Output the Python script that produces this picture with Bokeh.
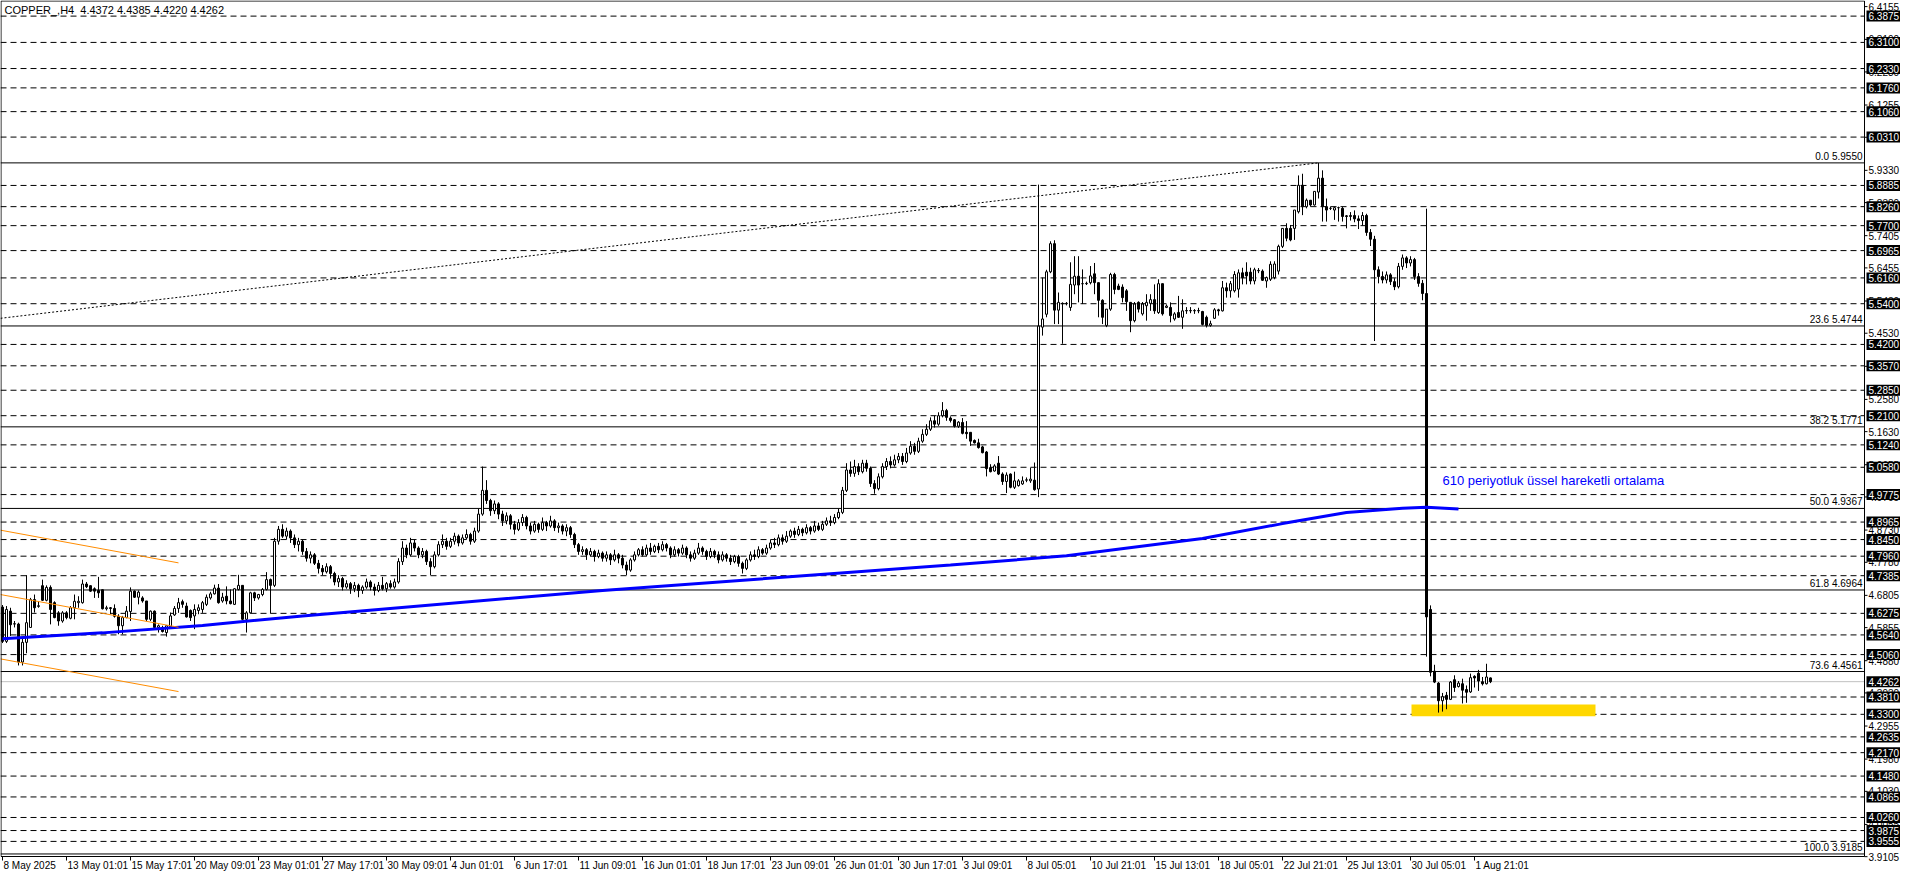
from bokeh.plotting import figure
from bokeh.models import ColumnDataSource, Label, Range1d
from bokeh.embed import file_html
from bokeh.resources import INLINE
from bokeh.core.properties import value

title_text = "COPPER_,H4\u00a0 4.4372 4.4385 4.4220 4.4262"

x_tick_labels = ["8 May 2025", "13 May 01:01", "15 May 17:01", "20 May 09:01", "23 May 01:01",
                 "27 May 17:01", "30 May 09:01", "4 Jun 01:01", "6 Jun 17:01", "11 Jun 09:01",
                 "16 Jun 01:01", "18 Jun 17:01", "23 Jun 09:01", "26 Jun 01:01", "30 Jun 17:01",
                 "3 Jul 09:01", "8 Jul 05:01", "10 Jul 21:01", "15 Jul 13:01", "18 Jul 05:01",
                 "22 Jul 21:01", "25 Jul 13:01", "30 Jul 05:01", "1 Aug 21:01"]
x_tick_bars = [0, 16, 32, 48, 64, 80, 96, 112, 128, 144, 160, 176, 192, 208, 224, 240,
               256, 272, 288, 304, 320, 336, 352, 368]

y_tick_values = [6.4155, 6.3190, 6.2230, 6.1255, 6.0305, 5.9330, 5.8380, 5.7405, 5.6455,
                 5.5480, 5.4530, 5.3555, 5.2580, 5.1630, 5.0655, 4.9705, 4.8730, 4.7780,
                 4.6805, 4.5855, 4.4880, 4.3930, 4.2955, 4.1980, 4.1030, 4.0055, 3.9105]

opens = [
    4.646, 4.545, 4.634, 4.596, 4.596, 4.484, 4.542, 4.586, 4.668, 4.648,
    4.709, 4.666, 4.704, 4.659, 4.629, 4.605, 4.629, 4.613, 4.644, 4.659,
    4.659, 4.714, 4.709, 4.700, 4.695, 4.697, 4.641, 4.644, 4.642, 4.619,
    4.591, 4.615, 4.633, 4.693, 4.675, 4.673, 4.664, 4.610, 4.634, 4.586,
    4.586, 4.571, 4.588, 4.623, 4.642, 4.662, 4.649, 4.636, 4.620, 4.636,
    4.639, 4.654, 4.673, 4.685, 4.702, 4.664, 4.678, 4.664, 4.654, 4.698,
    4.710, 4.610, 4.629, 4.688, 4.673, 4.683, 4.698, 4.727, 4.710, 4.840,
    4.875, 4.855, 4.870, 4.850, 4.830, 4.840, 4.810, 4.790, 4.800, 4.775,
    4.760, 4.750, 4.765, 4.745, 4.720, 4.730, 4.705, 4.715, 4.700, 4.710,
    4.695, 4.705, 4.720, 4.705, 4.695, 4.710, 4.700, 4.715, 4.705, 4.720,
    4.780, 4.820, 4.800, 4.835, 4.820, 4.800, 4.810, 4.780, 4.765, 4.800,
    4.830, 4.840, 4.825, 4.840, 4.855, 4.835, 4.850, 4.860, 4.840, 4.870,
    4.920, 4.990, 4.960, 4.930, 4.950, 4.920, 4.900, 4.915, 4.890, 4.875,
    4.895, 4.910, 4.885, 4.870, 4.890, 4.875, 4.895, 4.885, 4.900, 4.880,
    4.885, 4.870, 4.880, 4.860, 4.830, 4.810, 4.815, 4.800, 4.810, 4.795,
    4.805, 4.790, 4.800, 4.785, 4.800, 4.790, 4.770, 4.755, 4.785, 4.800,
    4.815, 4.800, 4.820, 4.810, 4.825, 4.815, 4.830, 4.820, 4.800, 4.815,
    4.805, 4.820, 4.800, 4.790, 4.805, 4.820, 4.810, 4.795, 4.810, 4.800,
    4.785, 4.800, 4.790, 4.780, 4.795, 4.775, 4.760, 4.785, 4.800, 4.795,
    4.815, 4.805, 4.820, 4.835, 4.830, 4.850, 4.840, 4.855, 4.870, 4.860,
    4.875, 4.865, 4.880, 4.870, 4.885, 4.875, 4.890, 4.900, 4.895, 4.910,
    4.925, 4.990, 5.050, 5.040, 5.060, 5.045, 5.070, 5.055, 5.010, 4.995,
    5.030, 5.060, 5.075, 5.065, 5.080, 5.090, 5.075, 5.100, 5.120, 5.105,
    5.135, 5.155, 5.170, 5.195, 5.185, 5.210, 5.225, 5.203, 5.198, 5.179,
    5.190, 5.161, 5.161, 5.137, 5.130, 5.118, 5.103, 5.057, 5.047, 5.070,
    5.038, 5.016, 5.038, 4.999, 5.004, 5.009, 5.020, 5.018, 5.020, 4.994,
    5.471, 5.509, 5.634, 5.717, 5.521, 5.541, 5.540, 5.529, 5.595, 5.621,
    5.599, 5.599, 5.602, 5.628, 5.602, 5.550, 5.476, 5.524, 5.626, 5.592,
    5.589, 5.578, 5.544, 5.490, 5.544, 5.510, 5.534, 5.541, 5.552, 5.514,
    5.599, 5.529, 5.529, 5.495, 5.514, 5.500, 5.519, 5.519, 5.519, 5.519,
    5.517, 5.500, 5.476, 5.497, 5.522, 5.519, 5.587, 5.578, 5.578, 5.583,
    5.631, 5.633, 5.633, 5.607, 5.638, 5.636, 5.607, 5.612, 5.617, 5.636,
    5.709, 5.762, 5.762, 5.762, 5.811, 5.889, 5.826, 5.845, 5.831, 5.869,
    5.910, 5.826, 5.821, 5.816, 5.823, 5.821, 5.799, 5.797, 5.800, 5.790,
    5.785, 5.800, 5.750, 5.730, 5.640, 5.620, 5.610, 5.625, 5.605, 5.590,
    5.650, 5.675, 5.660, 5.670, 5.620, 5.600, 5.570, 4.639, 4.457, 4.422,
    4.370, 4.386, 4.374, 4.432, 4.412, 4.420, 4.403, 4.396, 4.442, 4.451,
    4.426, 4.420, 4.4372]

highs = [
    4.652, 4.649, 4.644, 4.605, 4.600, 4.557, 4.740, 4.673, 4.683, 4.664,
    4.727, 4.710, 4.710, 4.663, 4.634, 4.634, 4.634, 4.649, 4.683, 4.678,
    4.727, 4.720, 4.710, 4.704, 4.735, 4.698, 4.650, 4.646, 4.654, 4.625,
    4.620, 4.649, 4.704, 4.695, 4.695, 4.678, 4.664, 4.636, 4.636, 4.595,
    4.591, 4.591, 4.630, 4.649, 4.673, 4.668, 4.659, 4.639, 4.654, 4.654,
    4.664, 4.683, 4.691, 4.712, 4.714, 4.688, 4.707, 4.698, 4.702, 4.741,
    4.710, 4.634, 4.691, 4.691, 4.685, 4.702, 4.749, 4.730, 4.850, 4.885,
    4.890, 4.880, 4.875, 4.860, 4.850, 4.845, 4.820, 4.810, 4.805, 4.785,
    4.770, 4.775, 4.770, 4.750, 4.740, 4.735, 4.725, 4.720, 4.720, 4.715,
    4.710, 4.730, 4.725, 4.715, 4.720, 4.735, 4.720, 4.725, 4.730, 4.790,
    4.840, 4.830, 4.850, 4.845, 4.825, 4.820, 4.815, 4.790, 4.810, 4.840,
    4.860, 4.850, 4.850, 4.865, 4.860, 4.860, 4.875, 4.865, 4.880, 4.935,
    5.060, 5.020, 4.965, 4.960, 4.955, 4.930, 4.925, 4.920, 4.900, 4.905,
    4.920, 4.915, 4.895, 4.900, 4.895, 4.910, 4.900, 4.915, 4.905, 4.895,
    4.890, 4.890, 4.885, 4.865, 4.835, 4.825, 4.820, 4.820, 4.815, 4.815,
    4.810, 4.810, 4.805, 4.815, 4.805, 4.800, 4.780, 4.790, 4.810, 4.820,
    4.825, 4.830, 4.835, 4.830, 4.835, 4.840, 4.835, 4.825, 4.825, 4.820,
    4.830, 4.825, 4.810, 4.815, 4.835, 4.825, 4.815, 4.820, 4.815, 4.810,
    4.810, 4.805, 4.800, 4.800, 4.800, 4.780, 4.790, 4.810, 4.815, 4.825,
    4.820, 4.830, 4.845, 4.850, 4.860, 4.860, 4.870, 4.875, 4.880, 4.885,
    4.880, 4.890, 4.885, 4.900, 4.895, 4.900, 4.910, 4.915, 4.920, 4.935,
    5.000, 5.070, 5.075, 5.080, 5.070, 5.080, 5.080, 5.060, 5.020, 5.040,
    5.070, 5.085, 5.090, 5.095, 5.100, 5.100, 5.115, 5.135, 5.130, 5.145,
    5.170, 5.185, 5.205, 5.210, 5.220, 5.250, 5.230, 5.208, 5.200, 5.194,
    5.203, 5.194, 5.161, 5.140, 5.142, 5.121, 5.106, 5.067, 5.067, 5.091,
    5.043, 5.043, 5.040, 5.045, 5.023, 5.031, 5.028, 5.057, 5.072, 5.891,
    5.617, 5.640, 5.724, 5.727, 5.573, 5.544, 5.545, 5.662, 5.680, 5.680,
    5.641, 5.605, 5.651, 5.660, 5.602, 5.553, 5.524, 5.631, 5.631, 5.599,
    5.597, 5.583, 5.544, 5.545, 5.547, 5.545, 5.568, 5.568, 5.597, 5.612,
    5.599, 5.538, 5.544, 5.515, 5.563, 5.553, 5.530, 5.530, 5.524, 5.528,
    5.519, 5.505, 5.490, 5.527, 5.525, 5.607, 5.602, 5.607, 5.636, 5.641,
    5.646, 5.662, 5.646, 5.646, 5.645, 5.641, 5.620, 5.665, 5.665, 5.714,
    5.762, 5.777, 5.772, 5.816, 5.918, 5.923, 5.850, 5.845, 5.871, 5.955,
    5.933, 5.850, 5.826, 5.826, 5.826, 5.826, 5.801, 5.810, 5.815, 5.800,
    5.810, 5.805, 5.760, 5.740, 5.650, 5.635, 5.635, 5.630, 5.615, 5.660,
    5.685, 5.680, 5.680, 5.675, 5.630, 5.610, 5.820, 4.651, 4.476, 4.425,
    4.393, 4.396, 4.428, 4.445, 4.428, 4.435, 4.415, 4.450, 4.445, 4.461,
    4.440, 4.479, 4.4385]

lows = [
    4.540, 4.540, 4.561, 4.586, 4.474, 4.474, 4.510, 4.586, 4.630, 4.644,
    4.664, 4.663, 4.595, 4.613, 4.591, 4.600, 4.610, 4.610, 4.610, 4.644,
    4.656, 4.702, 4.691, 4.673, 4.673, 4.639, 4.636, 4.625, 4.615, 4.566,
    4.566, 4.613, 4.605, 4.673, 4.654, 4.659, 4.605, 4.605, 4.584, 4.571,
    4.571, 4.559, 4.586, 4.620, 4.629, 4.644, 4.615, 4.605, 4.581, 4.625,
    4.629, 4.649, 4.668, 4.683, 4.656, 4.659, 4.654, 4.654, 4.652, 4.695,
    4.607, 4.571, 4.627, 4.664, 4.668, 4.678, 4.695, 4.627, 4.705, 4.830,
    4.850, 4.845, 4.835, 4.820, 4.810, 4.800, 4.780, 4.775, 4.770, 4.745,
    4.740, 4.745, 4.730, 4.710, 4.705, 4.695, 4.700, 4.685, 4.690, 4.675,
    4.685, 4.700, 4.695, 4.680, 4.690, 4.695, 4.690, 4.700, 4.700, 4.715,
    4.770, 4.790, 4.795, 4.810, 4.790, 4.790, 4.770, 4.740, 4.760, 4.795,
    4.820, 4.815, 4.820, 4.830, 4.825, 4.830, 4.845, 4.830, 4.835, 4.865,
    4.915, 4.950, 4.915, 4.920, 4.905, 4.885, 4.890, 4.875, 4.860, 4.870,
    4.885, 4.875, 4.860, 4.865, 4.865, 4.870, 4.870, 4.880, 4.870, 4.865,
    4.860, 4.855, 4.850, 4.820, 4.800, 4.800, 4.785, 4.795, 4.780, 4.790,
    4.780, 4.780, 4.770, 4.780, 4.775, 4.760, 4.740, 4.750, 4.780, 4.795,
    4.795, 4.795, 4.800, 4.805, 4.805, 4.810, 4.810, 4.790, 4.795, 4.795,
    4.800, 4.790, 4.780, 4.785, 4.800, 4.800, 4.785, 4.790, 4.790, 4.775,
    4.780, 4.780, 4.770, 4.775, 4.765, 4.745, 4.755, 4.780, 4.785, 4.790,
    4.800, 4.800, 4.815, 4.820, 4.825, 4.830, 4.835, 4.850, 4.850, 4.855,
    4.855, 4.860, 4.860, 4.865, 4.870, 4.870, 4.885, 4.885, 4.890, 4.905,
    4.920, 4.985, 5.030, 5.030, 5.035, 5.040, 5.045, 5.000, 4.980, 4.990,
    5.025, 5.050, 5.055, 5.060, 5.070, 5.065, 5.070, 5.095, 5.095, 5.100,
    5.130, 5.150, 5.165, 5.175, 5.180, 5.205, 5.195, 5.190, 5.175, 5.174,
    5.155, 5.142, 5.121, 5.128, 5.113, 5.099, 5.031, 5.043, 5.045, 5.035,
    5.006, 4.982, 4.996, 4.994, 5.001, 5.006, 5.014, 5.012, 4.989, 4.970,
    5.446, 5.500, 5.630, 5.480, 5.480, 5.422, 5.535, 5.519, 5.568, 5.544,
    5.539, 5.595, 5.597, 5.568, 5.500, 5.480, 5.471, 5.519, 5.568, 5.580,
    5.544, 5.519, 5.456, 5.485, 5.514, 5.505, 5.490, 5.519, 5.510, 5.510,
    5.505, 5.527, 5.485, 5.490, 5.498, 5.466, 5.510, 5.512, 5.510, 5.512,
    5.476, 5.470, 5.472, 5.495, 5.505, 5.517, 5.558, 5.558, 5.573, 5.558,
    5.597, 5.597, 5.597, 5.597, 5.630, 5.607, 5.587, 5.607, 5.612, 5.626,
    5.704, 5.724, 5.724, 5.728, 5.806, 5.801, 5.821, 5.826, 5.829, 5.850,
    5.782, 5.782, 5.816, 5.787, 5.782, 5.782, 5.762, 5.785, 5.780, 5.760,
    5.770, 5.740, 5.710, 5.430, 5.600, 5.600, 5.600, 5.595, 5.580, 5.585,
    5.640, 5.645, 5.650, 5.610, 5.590, 5.550, 4.500, 4.442, 4.422, 4.335,
    4.338, 4.345, 4.372, 4.396, 4.409, 4.362, 4.364, 4.393, 4.409, 4.399,
    4.415, 4.418, 4.4220]

closes = [
    4.545, 4.639, 4.594, 4.597, 4.484, 4.542, 4.600, 4.668, 4.644, 4.650,
    4.666, 4.704, 4.639, 4.615, 4.605, 4.629, 4.615, 4.644, 4.663, 4.663,
    4.714, 4.706, 4.693, 4.693, 4.688, 4.641, 4.644, 4.642, 4.619, 4.591,
    4.615, 4.634, 4.693, 4.675, 4.690, 4.664, 4.610, 4.634, 4.586, 4.591,
    4.574, 4.591, 4.620, 4.642, 4.659, 4.654, 4.617, 4.615, 4.639, 4.644,
    4.659, 4.675, 4.685, 4.702, 4.659, 4.675, 4.664, 4.656, 4.700, 4.710,
    4.610, 4.629, 4.688, 4.673, 4.683, 4.698, 4.727, 4.710, 4.840, 4.875,
    4.855, 4.870, 4.850, 4.830, 4.840, 4.810, 4.790, 4.800, 4.775, 4.760,
    4.750, 4.765, 4.745, 4.720, 4.730, 4.705, 4.715, 4.700, 4.710, 4.695,
    4.705, 4.720, 4.705, 4.695, 4.710, 4.700, 4.715, 4.705, 4.720, 4.780,
    4.820, 4.800, 4.835, 4.820, 4.800, 4.810, 4.780, 4.765, 4.800, 4.830,
    4.840, 4.825, 4.840, 4.855, 4.835, 4.850, 4.860, 4.840, 4.870, 4.920,
    4.990, 4.960, 4.930, 4.950, 4.920, 4.900, 4.915, 4.890, 4.875, 4.895,
    4.910, 4.885, 4.870, 4.890, 4.875, 4.895, 4.885, 4.900, 4.880, 4.885,
    4.870, 4.880, 4.860, 4.830, 4.810, 4.815, 4.800, 4.810, 4.795, 4.805,
    4.790, 4.800, 4.785, 4.800, 4.790, 4.770, 4.755, 4.785, 4.800, 4.815,
    4.800, 4.820, 4.810, 4.825, 4.815, 4.830, 4.820, 4.800, 4.815, 4.805,
    4.820, 4.800, 4.790, 4.805, 4.820, 4.810, 4.795, 4.810, 4.800, 4.785,
    4.800, 4.790, 4.780, 4.795, 4.775, 4.760, 4.785, 4.800, 4.795, 4.815,
    4.805, 4.820, 4.835, 4.830, 4.850, 4.840, 4.855, 4.870, 4.860, 4.875,
    4.865, 4.880, 4.870, 4.885, 4.875, 4.890, 4.900, 4.895, 4.910, 4.925,
    4.990, 5.050, 5.040, 5.060, 5.045, 5.070, 5.055, 5.010, 4.995, 5.030,
    5.060, 5.075, 5.065, 5.080, 5.090, 5.075, 5.100, 5.120, 5.105, 5.135,
    5.155, 5.170, 5.195, 5.185, 5.210, 5.225, 5.205, 5.196, 5.179, 5.191,
    5.158, 5.157, 5.135, 5.130, 5.116, 5.101, 5.054, 5.045, 5.062, 5.038,
    5.016, 5.035, 4.999, 5.018, 5.018, 5.018, 5.021, 5.023, 4.992, 5.474,
    5.495, 5.634, 5.717, 5.521, 5.544, 5.540, 5.541, 5.597, 5.621, 5.595,
    5.599, 5.600, 5.622, 5.602, 5.550, 5.500, 5.524, 5.626, 5.582, 5.582,
    5.558, 5.546, 5.490, 5.539, 5.524, 5.539, 5.544, 5.552, 5.519, 5.599,
    5.510, 5.533, 5.505, 5.510, 5.500, 5.519, 5.520, 5.520, 5.520, 5.520,
    5.479, 5.476, 5.481, 5.522, 5.519, 5.587, 5.578, 5.599, 5.626, 5.631,
    5.617, 5.622, 5.607, 5.640, 5.637, 5.609, 5.617, 5.656, 5.657, 5.709,
    5.762, 5.733, 5.728, 5.816, 5.889, 5.826, 5.845, 5.831, 5.871, 5.910,
    5.826, 5.816, 5.821, 5.823, 5.823, 5.797, 5.797, 5.800, 5.790, 5.785,
    5.800, 5.750, 5.730, 5.640, 5.620, 5.610, 5.625, 5.605, 5.590, 5.650,
    5.675, 5.660, 5.670, 5.620, 5.600, 5.570, 4.617, 4.454, 4.425, 4.370,
    4.382, 4.374, 4.425, 4.409, 4.422, 4.401, 4.395, 4.438, 4.437, 4.428,
    4.420, 4.440, 4.4262]

# EMA 610 (bar index, value) read at key points
ema_bars = [0, 25, 50, 75, 150, 237, 266, 300, 320, 336, 350, 356, 364]
ema_vals = [4.553, 4.570, 4.592, 4.620, 4.695, 4.770, 4.797, 4.848, 4.892, 4.925, 4.937, 4.940, 4.935]

# dashed horizontal levels (also shown as black price tags on the scale)
levels = [6.3875, 6.3100, 6.2330, 6.1760, 6.1060, 6.0310, 5.8885, 5.8260, 5.7700, 5.6965,
          5.6160, 5.5400, 5.4200, 5.3570, 5.2850, 5.2100, 5.1240, 5.0580, 4.9775, 4.8965,
          4.8450, 4.7960, 4.7385, 4.6275, 4.5640, 4.5060, 4.3810, 4.3300, 4.2635, 4.2170,
          4.1480, 4.0865, 4.0260, 3.9875, 3.9555]
current_price = 4.4262

fib_ratios = ["0.0", "23.6", "38.2", "50.0", "61.8", "73.6", "100.0"]
fib_prices = [5.9550, 5.4744, 5.1771, 4.9367, 4.6964, 4.4561, 3.9185]

diag_bars = [-0.5, 329]
diag_prices = [5.497, 5.955]

orange_bars = [[-0.5, 44], [-0.5, 44], [-0.5, 44]]
orange_prices = [[4.8726, 4.7763], [4.6829, 4.5866], [4.4933, 4.3970]]

zone_bars = [352.25, 398.25]
zone_prices = [4.324, 4.359]

ema_note = "610 periyotluk üssel hareketli ortalama"
ema_note_pos = (360, 5.0185)

# ---------------- layout (pixels -> data) ----------------
W, H = 1900, 872
PX_BAR = 4.0                 # pixels per bar
AXIS_W, AXIS_H = 36, 16      # right price scale / bottom time scale (px)
X0 = -0.5
X_EDGE = X0 + (W - AXIS_W) / PX_BAR
X_END = X0 + W / PX_BAR
Y_TOP, Y_BOT = 6.4335, 3.911
S = (Y_TOP - Y_BOT) / (H - AXIS_H)          # price per pixel
Y_CANVAS_BOT = Y_BOT - AXIS_H * S
FONT = "Liberation Sans"

p = figure(width=W, height=H, x_range=Range1d(X0, X_END), y_range=Range1d(Y_CANVAS_BOT, Y_TOP),
           output_backend="svg", toolbar_location=None, x_axis_location=None, y_axis_location=None,
           min_border=0, min_border_left=0, min_border_right=0, min_border_top=0, min_border_bottom=0,
           background_fill_color="white", border_fill_color="white", outline_line_color=None)
p.grid.visible = False

n_lv = len(levels)
p.segment(x0=[X0] * n_lv, x1=[X_EDGE] * n_lv, y0=levels, y1=levels,
          line_color="black", line_width=1, line_dash="6 4")
p.segment(x0=[X0], x1=[X_EDGE], y0=[current_price], y1=[current_price], line_color="#C0C0C0", line_width=1)
n_fb = len(fib_prices)
p.segment(x0=[X0] * n_fb, x1=[X_EDGE] * n_fb, y0=fib_prices, y1=fib_prices, line_color="black", line_width=1)

p.line(diag_bars, diag_prices, line_color="black", line_width=1, line_dash="2 2")

p.quad(left=[zone_bars[0]], right=[zone_bars[1]], bottom=[zone_prices[0]], top=[zone_prices[1]],
       fill_color="#FFD700", line_color=None)

xs = list(range(len(closes)))
src = ColumnDataSource(dict(
    x=xs, o=opens, h=highs, l=lows, c=closes,
    top=[max(o, c) for o, c in zip(opens, closes)],
    bottom=[min(o, c) for o, c in zip(opens, closes)],
    fill=["white" if c >= o else "black" for o, c in zip(opens, closes)],
))
p.segment(x0="x", y0="l", x1="x", y1="h", source=src, line_color="black", line_width=1)
p.vbar(x="x", width=0.5, top="top", bottom="bottom", source=src,
       fill_color="fill", line_color="black", line_width=1)

p.line(ema_bars, ema_vals, line_color="#0000FF", line_width=3)
p.multi_line(orange_bars, orange_prices, line_color="#FF8C00", line_width=1)

# chart border
p.quad(left=[X0 + 0.5 / PX_BAR], right=[X_EDGE], bottom=[Y_BOT], top=[Y_TOP - 0.5 * S],
       fill_color=None, line_color="black", line_width=1)

# ---- right price scale ----
n_yt = len(y_tick_values)
p.segment(x0=[X_EDGE] * n_yt, x1=[X_EDGE + 3 / PX_BAR] * n_yt, y0=y_tick_values, y1=y_tick_values,
          line_color="black", line_width=1)
p.text(x=[X_EDGE + 4 / PX_BAR] * n_yt, y=y_tick_values, text=[f"{v:.4f}" for v in y_tick_values],
       text_font=value(FONT), text_font_size=value("10px"), text_color="black",
       text_align="left", text_baseline="middle")

tag_vals = levels + [current_price]
n_tag = len(tag_vals)
p.quad(left=[X_EDGE + 2 / PX_BAR] * n_tag, right=[X_EDGE + 36 / PX_BAR] * n_tag,
       bottom=[v - 5.5 * S for v in tag_vals], top=[v + 5.5 * S for v in tag_vals],
       fill_color="black", line_color=None)
p.text(x=[X_EDGE + 4 / PX_BAR] * n_tag, y=tag_vals, text=[f"{v:.4f}" for v in tag_vals],
       text_font=value(FONT), text_font_size=value("10px"), text_color="white",
       text_align="left", text_baseline="middle")

# ---- bottom time scale ----
n_xt = len(x_tick_bars)
p.segment(x0=x_tick_bars, x1=x_tick_bars, y0=[Y_BOT] * n_xt, y1=[Y_BOT - 4 * S] * n_xt,
          line_color="black", line_width=1)
p.text(x=[b + 1 / PX_BAR for b in x_tick_bars], y=[Y_BOT - 3 * S] * n_xt, text=x_tick_labels,
       text_font=value(FONT), text_font_size=value("10px"), text_color="black",
       text_align="left", text_baseline="top")

for r, v in zip(fib_ratios, fib_prices):
    p.add_layout(Label(x=X_EDGE, y=v, x_offset=-2, y_offset=1, text=f"{r} {v:.4f}",
                       text_align="right", text_baseline="bottom", text_font=FONT,
                       text_font_size="10px", text_color="black"))

p.add_layout(Label(x=X0, y=Y_TOP, x_offset=4, y_offset=-3, text=title_text, text_align="left",
                   text_baseline="top", text_font=FONT, text_font_size="11px", text_color="black"))

p.add_layout(Label(x=ema_note_pos[0], y=ema_note_pos[1], text=ema_note, text_align="left",
                   text_baseline="middle", text_font=FONT, text_font_size="13px",
                   text_color="#0000FF"))

open("out.html", "w").write(file_html(p, INLINE))
